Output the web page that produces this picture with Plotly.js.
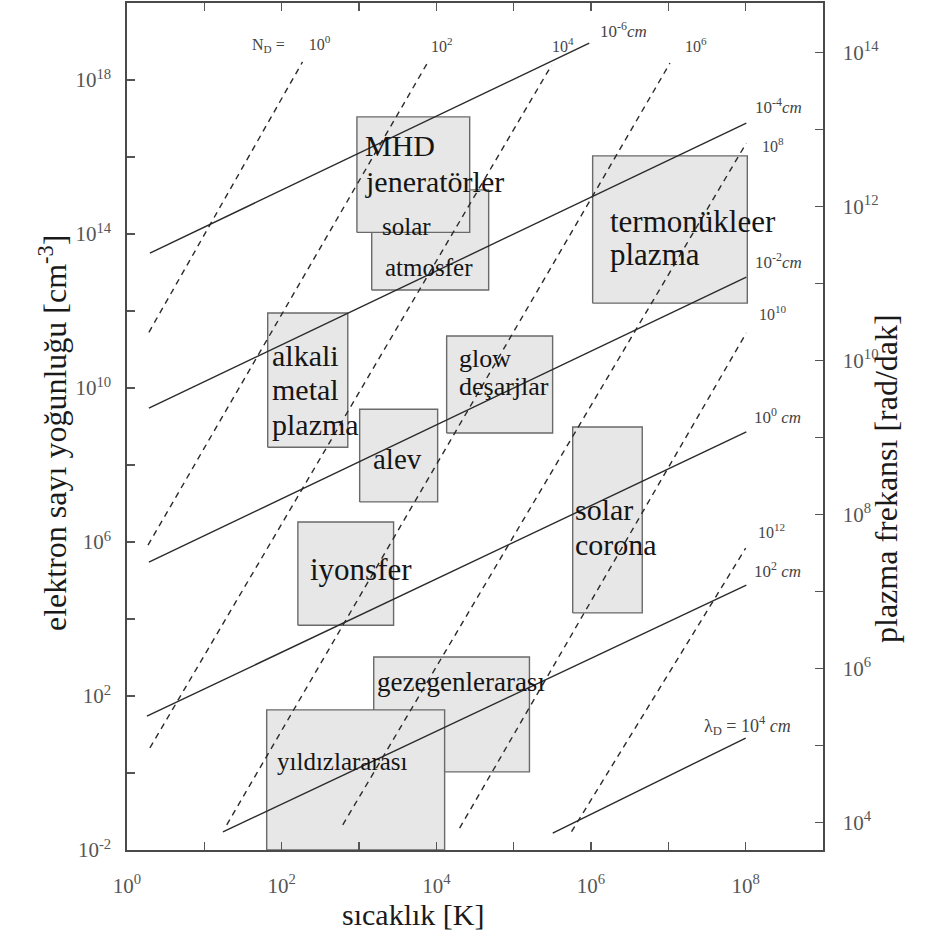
<!DOCTYPE html>
<html><head><meta charset="utf-8">
<script src="https://cdn.plot.ly/plotly-3.0.1.min.js"></script>
<style>html,body{margin:0;padding:0;background:#fff}</style>
</head><body><div id="chart" style="width:927px;height:952px"></div>
<script>
// ---- Debye length lines (solid), endpoints ----
const debyeNames = ['λD=1e-6 cm','λD=1e-4 cm','λD=1e-2 cm','λD=1e0 cm','λD=1e2 cm','λD=1e4 cm'];
const debyeT = [[1.98, 9.5e5],[1.92, 1.02e8],[1.92, 1.02e8],[1.81, 1.02e8],[17.4, 1.02e8],[3.2e5, 1.0e8]];
const debyeN = [[3.2e13, 9.1e18],[3.0e9, 7.6e16],[3.0e5, 7.6e12],[30, 7.2e8],[0.0295, 7.6e4],[0.0275, 8.1]];

// ---- Debye number lines (dashed), endpoints ----
const ndNames = ['ND=1e0','ND=1e2','ND=1e4','ND=1e6','ND=1e8','ND=1e10','ND=1e12'];
const ndT = [[1.92, 186],[1.87, 7.8e3],[1.98, 3.1e5],[19.5, 1.05e7],[617, 1.02e8],[2.0e4, 1.02e8],[5.6e5, 1.0e8]];
const ndN = [[2.8e11, 2.95e18],[8.3e5, 2.95e18],[4.5, 2.45e18],[0.045, 2.75e18],[0.045, 2.3e16],[0.037, 2.7e11],[0.030, 6.9e5]];

// ---- plasma regions: temperature [K] and density [cm^-3] ranges ----
const regionNames = ['solar atmosfer','MHD jeneratörler','termonükleer plazma','alkali metal plazma','glow deşarjlar','alev','solar corona','iyonsfer','gezegenlerarası','yıldızlararası'];
const regionLines = [['solar','atmosfer'],['MHD','jeneratörler'],['termonükleer','plazma'],['alkali','metal','plazma'],['glow','deşarjlar'],['alev'],['solar','corona'],['iyonsfer'],['gezegenlerarası'],['yıldızlararası']];
const regionTmin = [1.46e3, 9.4e2, 1.05e6, 66, 1.36e4, 1.02e3, 5.8e5, 162, 1.55e3, 64];
const regionTmax = [4.75e4, 2.7e4, 1.05e8, 716, 3.19e5, 1.04e4, 4.6e6, 2.8e3, 1.6e5, 1.28e4];
const regionNmin = [3.5e12, 1.1e14, 1.6e12, 2.9e8, 6.8e8, 1.1e7, 1.44e4, 6.9e3, 1.07, 0.01];
const regionNmax = [1.4e15, 1.1e17, 1.07e16, 8.9e11, 2.24e11, 2.8e9, 9.7e8, 3.3e6, 1.03e3, 43.6];

// ---- tick labels (exponents of ten) ----
const xTickLabelExp = [0,2,4,6,8];
const xMinorExp = [1,3,5,7];
const yTickLabelExp = [-2,2,6,10,14,18];
const yMinorExp = [0,4,8,12,16];
const y2TickLabelExp = [4,6,8,10,12,14];
const y2MinorExp = [5,7,9,11,13];

// ---- line labels ----
const lineLabels = ['N<sub>D</sub> =&nbsp;&nbsp;&nbsp;&nbsp;&nbsp;&nbsp;10<sup>0</sup>','10<sup>2</sup>','10<sup>4</sup>','10<sup>-6</sup><i>cm</i>','10<sup>6</sup>',
  '10<sup>-4</sup><i>cm</i>','10<sup>8</sup>','10<sup>-2</sup><i>cm</i>','10<sup>10</sup>','10<sup>0</sup> <i>cm</i>','10<sup>12</sup>',
  '10<sup>2</sup> <i>cm</i>','λ<sub>D</sub> = 10<sup>4</sup> <i>cm</i>'];

// ===== layout helpers =====
const L = 127, R = 823, T = 3, B = 850;
const P = (px, py) => ({x: (px - L) / (R - L), y: (B - py) / (B - T)});
const SERIF = '"Liberation Serif", "Times New Roman", Times, serif';
const LINE = '#2a2a2a';

const traces = [];
for (let i = 0; i < regionNames.length; i++) {
  traces.push({
    type: 'scatter', mode: 'lines', name: regionNames[i],
    x: [regionTmin[i], regionTmax[i], regionTmax[i], regionTmin[i], regionTmin[i]],
    y: [regionNmin[i], regionNmin[i], regionNmax[i], regionNmax[i], regionNmin[i]],
    fill: 'toself', fillcolor: '#e7e7e7',
    line: {color: '#6a6a6a', width: 1.4},
    hoverinfo: 'skip', showlegend: false
  });
}
for (let i = 0; i < ndNames.length; i++) {
  traces.push({type: 'scatter', mode: 'lines', name: ndNames[i], x: ndT[i], y: ndN[i],
    line: {color: LINE, width: 1.4, dash: '6px,5px'}, hoverinfo: 'skip', showlegend: false});
}
for (let i = 0; i < debyeNames.length; i++) {
  traces.push({type: 'scatter', mode: 'lines', name: debyeNames[i], x: debyeT[i], y: debyeN[i],
    line: {color: LINE, width: 1.4}, hoverinfo: 'skip', showlegend: false});
}
// invisible trace to activate yaxis2
traces.push({type: 'scatter', mode: 'markers', x: [1e3], y: [1e8], yaxis: 'y2',
  marker: {opacity: 0}, hoverinfo: 'skip', showlegend: false});

const pw = e => '10<sup>' + e + '</sup>';
const tv = arr => arr.map(e => Math.pow(10, e));

// region label positions (left x, centre y in px) and sizes
const regionLabelPos = [
  [[380,226],[383,267]],
  [[363,146],[363,181]],
  [[608,221],[608,254]],
  [[270,355],[270,389],[270,424]],
  [[457,358],[457,386]],
  [[371,459]],
  [[573,509],[573,545]],
  [[308,569]],
  [[375,682]],
  [[275,761]]
];
const regionFont = [25, 30, 31, 30, 26, 29, 30, 31, 27, 25];

const annotations = [];
for (let i = 0; i < regionLines.length; i++) {
  regionLines[i].forEach((t, j) => {
    const p = P(regionLabelPos[i][j][0], regionLabelPos[i][j][1]);
    annotations.push({xref: 'paper', yref: 'paper', x: p.x, y: p.y, xanchor: 'left', yanchor: 'middle',
      text: t, showarrow: false, font: {family: SERIF, size: regionFont[i], color: '#151515'}});
  });
}
const lineLabelPos = [[250,44],[429,45],[550,45],[598,30],[683,45],[753,106],[760,145],[753,261],[757,313],[752,416],[756,531],[752,570],[702,725]];
const lineLabelSize = [16,16,16,17,16,17,16,17,16,17,16,17,18];
lineLabels.forEach((t, i) => {
  const p = P(lineLabelPos[i][0], lineLabelPos[i][1]);
  annotations.push({xref: 'paper', yref: 'paper', x: p.x, y: p.y, xanchor: 'left', yanchor: 'middle',
    text: t, showarrow: false, font: {family: SERIF, size: lineLabelSize[i], color: '#444'}});
});
// axis titles
const tx = P(413, 933), tl = P(31, 433), tr = P(906, 479);
annotations.push({xref:'paper', yref:'paper', x: tx.x, y: tx.y, text: 'sıcaklık [K]', showarrow: false,
  font: {family: SERIF, size: 30, color: '#1a1a1a'}});
annotations.push({xref:'paper', yref:'paper', x: tl.x, y: tl.y, text: 'elektron sayı yoğunluğu [cm<sup>-3</sup>]', textangle: -90, showarrow: false,
  font: {family: SERIF, size: 32, color: '#1a1a1a'}});
annotations.push({xref:'paper', yref:'paper', x: tr.x, y: tr.y, text: 'plazma frekansı [rad/dak]', textangle: -90, showarrow: false,
  font: {family: SERIF, size: 32, color: '#1a1a1a'}});

const tickFont = {family: SERIF, size: 21, color: '#555'};
const minorCfg = arr => ({tickmode: 'array', tickvals: tv(arr), ticks: 'inside', ticklen: 8, tickwidth: 1.2, tickcolor: '#555', showgrid: false});
const layout = {
  width: 927, height: 952,
  margin: {l: L, r: 927 - R, t: T, b: 952 - B, pad: 0},
  paper_bgcolor: '#fff', plot_bgcolor: '#fff',
  font: {family: SERIF},
  showlegend: false,
  xaxis: {type: 'log', range: [0, 9], showgrid: false, zeroline: false,
    showline: true, linecolor: '#4a4a4a', linewidth: 1.6, mirror: 'ticks',
    ticks: 'inside', ticklen: 8, tickwidth: 1.2, tickcolor: '#555',
    tickmode: 'array', tickvals: tv(xTickLabelExp), ticktext: xTickLabelExp.map(pw),
    minor: minorCfg(xMinorExp),
    tickfont: tickFont, ticklabelstandoff: 16},
  yaxis: {type: 'log', range: [-2, 20], showgrid: false, zeroline: false,
    showline: true, linecolor: '#4a4a4a', linewidth: 1.6, mirror: false,
    ticks: 'inside', ticklen: 8, tickwidth: 1.2, tickcolor: '#555',
    tickmode: 'array', tickvals: tv(yTickLabelExp), ticktext: yTickLabelExp.map(pw),
    minor: minorCfg(yMinorExp),
    tickfont: tickFont, ticklabelstandoff: 10},
  yaxis2: {type: 'log', range: [3.64, 14.64], overlaying: 'y', side: 'right', showgrid: false, zeroline: false,
    showline: true, linecolor: '#4a4a4a', linewidth: 1.6,
    ticks: 'inside', ticklen: 8, tickwidth: 1.2, tickcolor: '#555',
    tickmode: 'array', tickvals: tv(y2TickLabelExp), ticktext: y2TickLabelExp.map(pw),
    minor: minorCfg(y2MinorExp),
    tickfont: tickFont, ticklabelstandoff: 14},
  annotations: annotations
};
Plotly.newPlot('chart', traces, layout, {displayModeBar: false, staticPlot: true});
</script></body></html>
